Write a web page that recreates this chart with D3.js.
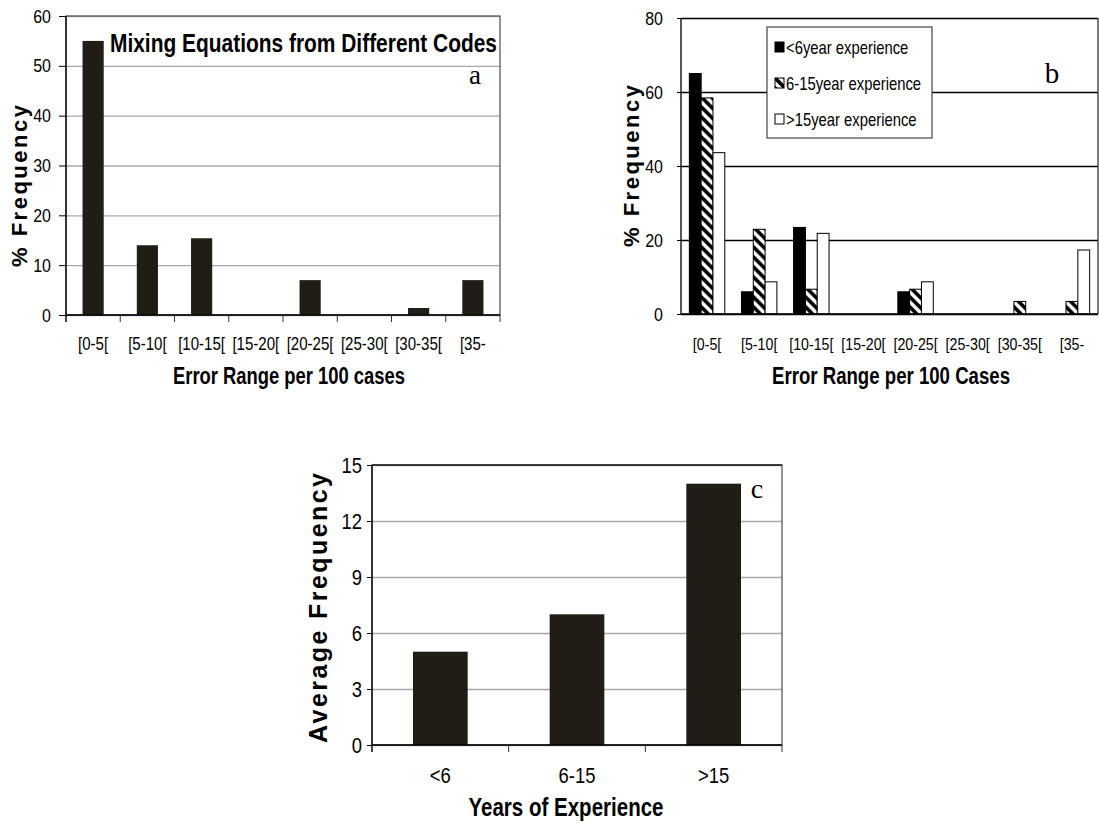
<!DOCTYPE html>
<html>
<head>
<meta charset="utf-8">
<script src="https://cdn.jsdelivr.net/npm/d3@7"></script>
<style>
  body { margin: 0; background: #fff; }
  svg { display: block; }
  .narrow { font-family: "Liberation Sans Narrow", "Arial Narrow", "Liberation Sans", sans-serif; }
  .wide { font-family: "Liberation Sans", Arial, sans-serif; font-weight: bold; }
  .serif { font-family: "Liberation Serif", "Times New Roman", serif; }
</style>
</head>
<body>
<svg class="chart" width="1099" height="825"></svg>
<script>
// error ranges per 100 cases
var rangeCats = ["[0-5[", "[5-10[", "[10-15[", "[15-20[", "[20-25[", "[25-30[", "[30-35[", "[35-"];
// panel a
var mixingValues = [55, 14, 15.4, 0, 7, 0, 1.4, 7];
var aTicks = [0, 10, 20, 30, 40, 50, 60];
// panel b
var expSeries = ["<6year experience", "6-15year experience", ">15year experience"];
var under6 = [65, 6, 23.4, 0, 6, 0, 0, 0];
var from6to15 = [58.4, 22.9, 6.7, 0, 6.7, 0, 3.4, 3.4];
var over15 = [43.6, 8.7, 21.8, 0, 8.7, 0, 0, 17.3];
var bTicks = [0, 20, 40, 60, 80];
// panel c
var expCats = ["<6", "6-15", ">15"];
var avgFrequency = [5, 7, 14];
var cTicks = [0, 3, 6, 9, 12, 15];

var svg = d3.select(".chart");
var barColor = "#201d14";

// no narrow face installed, so squeeze the glyphs ourselves
function squeeze(sel, f) {
  sel.each(function() {
    var w = this.getComputedTextLength();
    d3.select(this).attr("textLength", w * f).attr("lengthAdjust", "spacingAndGlyphs");
  });
}

var defs = svg.append("defs");
var pat = defs.append("pattern")
  .attr("id", "hatch")
  .attr("patternUnits", "userSpaceOnUse")
  .attr("width", 10).attr("height", 10);
pat.append("rect").attr("width", 10).attr("height", 10).attr("fill", "#000");
pat.append("path")
  .attr("d", "M0,0L10,10M-5,5L5,15M5,-5L15,5")
  .attr("stroke", "#fff").attr("stroke-width", 3.4);

var seriesFill = ["#000", "url(#hatch)", "#fff"];

function yLabel(text, x, y, len, size) {
  svg.append("text")
    .attr("class", "wide")
    .attr("transform", "translate(" + x + "," + y + ") rotate(-90)")
    .attr("text-anchor", "middle")
    .attr("dy", "0.35em")
    .attr("font-size", size)
    .attr("textLength", len)
    .attr("lengthAdjust", "spacing")
    .text(text);
}

function styleAxis(g, size) {
  g.select(".domain").remove();
  g.selectAll("text").attr("class", "narrow").attr("font-size", size).attr("fill", "#000")
    .call(squeeze, 0.84);
}

// ---------- panel a ----------
(function() {
  var x = d3.scaleBand().domain(rangeCats).range([66, 500]).paddingInner(0.61).paddingOuter(0.305);
  var y = d3.scaleLinear().domain([0, 60]).range([315, 16]);

  svg.append("g")
    .attr("transform", "translate(66,0)")
    .call(d3.axisLeft(y).tickValues(aTicks).tickSize(-434).tickFormat(""))
    .call(function(g) {
      g.select(".domain").remove();
      g.selectAll("line").attr("stroke", "#a8a8a8").attr("stroke-width", 1.3);
    });
  svg.append("rect").attr("x", 66).attr("y", 16).attr("width", 434).attr("height", 299)
    .attr("fill", "none").attr("stroke", "#5a5a5a").attr("stroke-width", 1.3);

  svg.selectAll(".bar-a")
    .data(mixingValues)
    .enter().append("rect")
    .attr("class", "bar-a")
    .attr("x", function(d, i) { return x(rangeCats[i]); })
    .attr("y", function(d) { return y(d); })
    .attr("width", x.bandwidth())
    .attr("height", function(d) { return 315 - y(d); })
    .attr("fill", barColor);

  svg.append("g")
    .attr("transform", "translate(66,0)")
    .call(d3.axisLeft(y).tickValues(aTicks).tickSize(7).tickPadding(8))
    .call(function(g) { styleAxis(g, 19); g.selectAll("line").attr("stroke", "#000"); });

  svg.append("line").attr("x1", 66).attr("x2", 500).attr("y1", 315).attr("y2", 315)
    .attr("stroke", "#000").attr("stroke-width", 1.5);
  svg.append("line").attr("x1", 66).attr("x2", 66).attr("y1", 16).attr("y2", 322)
    .attr("stroke", "#000").attr("stroke-width", 1.3);
  svg.selectAll(".tick-a")
    .data(d3.range(rangeCats.length + 1))
    .enter().append("line")
    .attr("x1", function(i) { return 66 + i * x.step(); })
    .attr("x2", function(i) { return 66 + i * x.step(); })
    .attr("y1", 315).attr("y2", 322)
    .attr("stroke", "#333");

  svg.selectAll(".xl-a")
    .data(rangeCats)
    .enter().append("text")
    .attr("class", "narrow")
    .attr("x", function(d) { return x(d) + x.bandwidth() / 2; })
    .attr("y", 350)
    .attr("text-anchor", "middle")
    .attr("font-size", 17.5)
    .text(function(d) { return d; })
    .call(squeeze, 0.86);

  svg.append("text").attr("class", "narrow").attr("font-weight", "bold")
    .attr("x", 289).attr("y", 384).attr("text-anchor", "middle")
    .attr("font-size", 23).attr("textLength", 232).attr("lengthAdjust", "spacingAndGlyphs")
    .text("Error Range per 100 cases");

  svg.append("text").attr("class", "narrow").attr("font-weight", "bold")
    .attr("x", 110).attr("y", 52)
    .attr("font-size", 26).attr("textLength", 387).attr("lengthAdjust", "spacingAndGlyphs")
    .text("Mixing Equations from Different Codes");

  svg.append("text").attr("class", "serif")
    .attr("x", 475).attr("y", 84).attr("text-anchor", "middle")
    .attr("font-size", 27).text("a");

  yLabel("% Frequency", 19, 186, 162, 22);
})();

// ---------- panel b ----------
(function() {
  var left = 681, right = 1098, base = 314;
  var series = [under6, from6to15, over15];
  var x = d3.scaleBand().domain(rangeCats).range([left, right]).paddingInner(0.32).paddingOuter(0.16);
  var xs = d3.scaleBand().domain(expSeries).range([0, x.bandwidth()]);
  var y = d3.scaleLinear().domain([0, 80]).range([base, 18]);

  svg.append("g")
    .attr("transform", "translate(" + left + ",0)")
    .call(d3.axisLeft(y).tickValues(bTicks).tickSize(-(right - left)).tickFormat(""))
    .call(function(g) {
      g.select(".domain").remove();
      g.selectAll("line").attr("stroke", "#000").attr("stroke-width", 1.3);
    });
  svg.append("line").attr("x1", right).attr("x2", right).attr("y1", 18).attr("y2", base)
    .attr("stroke", "#333").attr("stroke-width", 1.3);

  var groups = svg.selectAll(".grp-b")
    .data(rangeCats)
    .enter().append("g")
    .attr("transform", function(d) { return "translate(" + x(d) + ",0)"; });

  groups.selectAll("rect")
    .data(function(d, i) { return series.map(function(s, k) { return { k: k, v: s[i] }; }); })
    .enter().append("rect")
    .filter(function(d) { return d.v > 0; })
    .attr("x", function(d) { return xs(expSeries[d.k]); })
    .attr("y", function(d) { return y(d.v); })
    .attr("width", xs.bandwidth())
    .attr("height", function(d) { return base - y(d.v); })
    .attr("fill", function(d) { return seriesFill[d.k]; })
    .attr("stroke", "#000").attr("stroke-width", 1);

  svg.append("g")
    .attr("transform", "translate(" + left + ",0)")
    .call(d3.axisLeft(y).tickValues(bTicks).tickSize(4).tickPadding(14))
    .call(function(g) { styleAxis(g, 19); g.selectAll("line").attr("stroke", "#000"); });

  svg.append("line").attr("x1", left).attr("x2", right).attr("y1", base).attr("y2", base)
    .attr("stroke", "#000").attr("stroke-width", 1.5);
  svg.append("line").attr("x1", left).attr("x2", left).attr("y1", 18).attr("y2", base)
    .attr("stroke", "#000").attr("stroke-width", 1.3);

  svg.selectAll(".xl-b")
    .data(rangeCats)
    .enter().append("text")
    .attr("class", "narrow")
    .attr("x", function(d) { return x(d) + x.bandwidth() / 2; })
    .attr("y", 350)
    .attr("text-anchor", "middle")
    .attr("font-size", 16.5)
    .text(function(d) { return d; })
    .call(squeeze, 0.86);

  svg.append("text").attr("class", "narrow").attr("font-weight", "bold")
    .attr("x", 891).attr("y", 384).attr("text-anchor", "middle")
    .attr("font-size", 23).attr("textLength", 238).attr("lengthAdjust", "spacingAndGlyphs")
    .text("Error Range per 100 Cases");

  svg.append("text").attr("class", "serif")
    .attr("x", 1052).attr("y", 83).attr("text-anchor", "middle")
    .attr("font-size", 29).text("b");

  // legend
  var lg = svg.append("g").attr("transform", "translate(767,27)");
  lg.append("rect").attr("width", 165).attr("height", 111)
    .attr("fill", "#fff").attr("stroke", "#444").attr("stroke-width", 1.2);
  var rows = lg.selectAll(".lrow").data(expSeries).enter().append("g")
    .attr("transform", function(d, i) { return "translate(8," + (20 + i * 36) + ")"; });
  rows.append("rect").attr("x", 0).attr("y", -5).attr("width", 9).attr("height", 10)
    .attr("fill", function(d, i) { return seriesFill[i]; })
    .attr("stroke", "#000").attr("stroke-width", 1);
  rows.append("text").attr("class", "narrow")
    .attr("x", 11).attr("dy", "0.36em").attr("font-size", 19)
    .text(function(d) { return d; })
    .call(squeeze, 0.78);

  yLabel("% Frequency", 631, 166, 162, 22);
})();

// ---------- panel c ----------
(function() {
  var left = 372, right = 782, base = 745, top = 465;
  var x = d3.scaleBand().domain(expCats).range([left, right]).paddingInner(0.6).paddingOuter(0.3);
  var y = d3.scaleLinear().domain([0, 15]).range([base, top]);

  svg.append("g")
    .attr("transform", "translate(" + left + ",0)")
    .call(d3.axisLeft(y).tickValues(cTicks).tickSize(-(right - left)).tickFormat(""))
    .call(function(g) {
      g.select(".domain").remove();
      g.selectAll("line").attr("stroke", "#a8a8a8").attr("stroke-width", 1.3);
    });
  svg.append("rect").attr("x", left).attr("y", top).attr("width", right - left).attr("height", base - top)
    .attr("fill", "none").attr("stroke", "#5a5a5a").attr("stroke-width", 1.3);
  svg.append("line").attr("x1", left).attr("x2", right).attr("y1", top).attr("y2", top)
    .attr("stroke", "#222").attr("stroke-width", 1.3);

  svg.selectAll(".bar-c")
    .data(avgFrequency)
    .enter().append("rect")
    .attr("x", function(d, i) { return x(expCats[i]); })
    .attr("y", function(d) { return y(d); })
    .attr("width", x.bandwidth())
    .attr("height", function(d) { return base - y(d); })
    .attr("fill", barColor);

  svg.append("g")
    .attr("transform", "translate(" + left + ",0)")
    .call(d3.axisLeft(y).tickValues(cTicks).tickSize(5).tickPadding(5))
    .call(function(g) { styleAxis(g, 22); g.selectAll("line").attr("stroke", "#000"); });

  svg.append("line").attr("x1", left).attr("x2", right).attr("y1", base).attr("y2", base)
    .attr("stroke", "#000").attr("stroke-width", 1.5);
  svg.append("line").attr("x1", left).attr("x2", left).attr("y1", top).attr("y2", base + 7)
    .attr("stroke", "#000").attr("stroke-width", 1.3);
  svg.selectAll(".tick-c")
    .data(d3.range(expCats.length + 1))
    .enter().append("line")
    .attr("x1", function(i) { return left + i * x.step(); })
    .attr("x2", function(i) { return left + i * x.step(); })
    .attr("y1", base).attr("y2", base + 7)
    .attr("stroke", "#333");

  svg.selectAll(".xl-c")
    .data(expCats)
    .enter().append("text")
    .attr("class", "narrow")
    .attr("x", function(d) { return x(d) + x.bandwidth() / 2; })
    .attr("y", 783)
    .attr("text-anchor", "middle")
    .attr("font-size", 22)
    .text(function(d) { return d; })
    .call(squeeze, 0.84);

  svg.append("text").attr("class", "narrow").attr("font-weight", "bold")
    .attr("x", 566).attr("y", 816).attr("text-anchor", "middle")
    .attr("font-size", 26).attr("textLength", 195).attr("lengthAdjust", "spacingAndGlyphs")
    .text("Years of Experience");

  svg.append("text").attr("class", "serif")
    .attr("x", 757).attr("y", 498).attr("text-anchor", "middle")
    .attr("font-size", 28).text("c");

  yLabel("Average Frequency", 318, 608, 270, 25);
})();
</script>
</body>
</html>
